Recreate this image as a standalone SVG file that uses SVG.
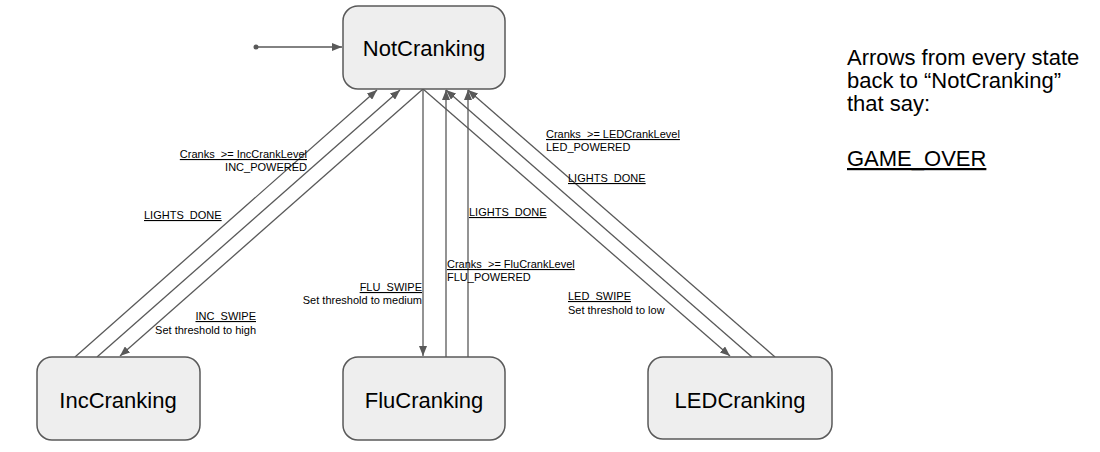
<svg xmlns="http://www.w3.org/2000/svg" width="1100" height="452" viewBox="0 0 1100 452">
<defs>
<marker id="ah" viewBox="0 0 10 8" refX="10" refY="4" markerWidth="10" markerHeight="8" markerUnits="userSpaceOnUse" orient="auto">
<path d="M0,0 L10,4 L0,8 z" fill="#595959"/>
</marker>
<style>
.node rect{fill:#eeeeee;stroke:#595959;stroke-width:1.5}
.node text{font-family:"Liberation Sans",Arial,sans-serif;font-size:22px;fill:#000;text-anchor:middle}
.edges line{stroke:#595959;stroke-width:1.3;fill:none}
.lbl{font-family:"Liberation Sans",Arial,sans-serif;font-size:11px;fill:#000;white-space:pre}
.u{text-decoration:underline}
.r{text-anchor:end}
.note{font-family:"Liberation Sans",Arial,sans-serif;font-size:22px;fill:#000}
</style>
</defs>
<rect width="1100" height="452" fill="#ffffff"/>
<g class="edges">
<circle cx="256" cy="47" r="2.5" fill="#595959"/>
<line x1="256" y1="47" x2="342" y2="47" marker-end="url(#ah)"/>
<line x1="75" y1="357" x2="377" y2="90" marker-end="url(#ah)"/>
<line x1="97" y1="357" x2="400" y2="90" marker-end="url(#ah)"/>
<line x1="423" y1="89" x2="120" y2="356" marker-end="url(#ah)"/>
<line x1="423" y1="89" x2="423" y2="356" marker-end="url(#ah)"/>
<line x1="446" y1="357" x2="446" y2="90" marker-end="url(#ah)"/>
<line x1="468" y1="357" x2="468" y2="90" marker-end="url(#ah)"/>
<line x1="423" y1="89" x2="730" y2="356" marker-end="url(#ah)"/>
<line x1="752" y1="357" x2="446" y2="90" marker-end="url(#ah)"/>
<line x1="775" y1="357" x2="468" y2="90" marker-end="url(#ah)"/>
</g>
<g id="NotCranking" class="node"><rect x="343" y="6" width="162" height="83" rx="15"/><text x="424" y="56">NotCranking</text></g>
<g id="IncCranking" class="node"><rect x="37" y="357" width="163" height="83" rx="15"/><text x="118" y="408">IncCranking</text></g>
<g id="FluCranking" class="node"><rect x="343" y="357" width="162" height="83" rx="15"/><text x="424" y="408">FluCranking</text></g>
<g id="LEDCranking" class="node"><rect x="648" y="357" width="184" height="82" rx="15"/><text x="740" y="408">LEDCranking</text></g>
<g id="labels">
<text class="lbl u r" x="307" y="158">Cranks  &gt;= IncCrankLevel</text>
<text class="lbl r" x="307" y="171">INC_POWERED</text>
<text class="lbl u" x="144" y="219">LIGHTS_DONE</text>
<text class="lbl u r" x="256" y="320">INC_SWIPE</text>
<text class="lbl r" x="256" y="334">Set threshold to high</text>
<text class="lbl u r" x="422" y="291">FLU_SWIPE</text>
<text class="lbl r" x="422" y="304">Set threshold to medium</text>
<text class="lbl u" x="469" y="216">LIGHTS_DONE</text>
<text class="lbl u" x="447" y="268">Cranks  &gt;= FluCrankLevel</text>
<text class="lbl" x="447" y="281">FLU_POWERED</text>
<text class="lbl u" x="546" y="138">Cranks  &gt;= LEDCrankLevel</text>
<text class="lbl" x="546" y="151">LED_POWERED</text>
<text class="lbl u" x="568" y="182">LIGHTS_DONE</text>
<text class="lbl u" x="568" y="300">LED_SWIPE</text>
<text class="lbl" x="568" y="314">Set threshold to low</text>
</g>
<g id="note">
<text class="note" x="847" y="65">Arrows from every state</text>
<text class="note" x="847" y="88">back to “NotCranking”</text>
<text class="note" x="847" y="111">that say:</text>
<text class="note u" x="847" y="166">GAME_OVER</text>
</g>
</svg>
